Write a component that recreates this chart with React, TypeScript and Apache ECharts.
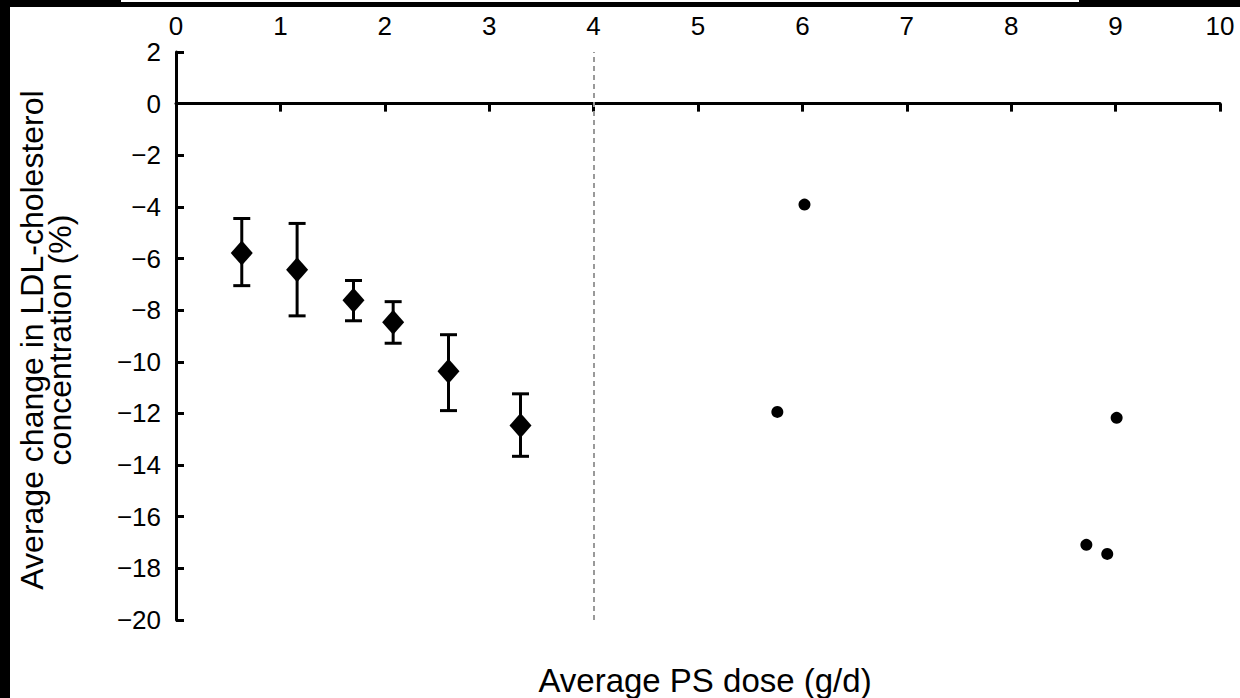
import React, { useEffect, useRef } from "react";
import * as echarts from "echarts";

const diamondX = [0.63, 1.16, 1.7, 2.08, 2.61, 3.3];
const diamondY = [-5.79, -6.43, -7.62, -8.47, -10.37, -12.47];
const errLow = [-7.05, -8.22, -8.41, -9.28, -11.89, -13.66];
const errHigh = [-4.45, -4.64, -6.85, -7.67, -8.95, -11.24];

const circleX = [6.02, 5.76, 9.01, 8.72, 8.92];
const circleY = [-3.91, -11.94, -12.17, -17.09, -17.44];

const cutoffX = 4;
const xTitle = "Average PS dose (g/d)";
const yTitle = "Average change in LDL-cholesterol\nconcentration (%)";

const FONT = "'Liberation Sans', Arial, sans-serif";

export default function App() {
  const ref = useRef<HTMLDivElement>(null);
  useEffect(() => {
    if (!ref.current) return;
    const chart = echarts.init(ref.current, null, { renderer: "svg" });
    const errData = diamondX.map((x, i) => [x, errLow[i], errHigh[i]]);
    const diaData = diamondX.map((x, i) => [x, diamondY[i]]);
    const cirData = circleX.map((x, i) => [x, circleY[i]]);
    chart.setOption({
      animation: false,
      backgroundColor: "#fff",
      grid: { left: 176, right: 20, top: 52, bottom: 78, containLabel: false },
      xAxis: [
        {
          type: "value",
          min: 0,
          max: 10,
          interval: 1,
          position: "top",
          axisLine: { show: false, onZero: false },
          axisTick: { show: false },
          splitLine: { show: false },
          axisLabel: { color: "#000", fontSize: 26, fontFamily: FONT, margin: 13 },
        },
        {
          type: "value",
          min: 0,
          max: 10,
          interval: 1,
          position: "bottom",
          axisLine: { show: true, onZero: true, lineStyle: { color: "#000", width: 3 } },
          axisTick: { show: true, inside: false, length: 8, lineStyle: { color: "#000", width: 3 } },
          splitLine: { show: false },
          axisLabel: { show: false },
        },
      ],
      yAxis: {
        type: "value",
        min: -20,
        max: 2,
        interval: 2,
        axisLine: { show: true, onZero: false, lineStyle: { color: "#000", width: 3 } },
        axisTick: { show: true, inside: true, length: 8, lineStyle: { color: "#000", width: 3 } },
        splitLine: { show: false },
        axisLabel: {
          color: "#000",
          fontSize: 26,
          fontFamily: FONT,
          margin: 15,
          formatter: (v: number) => String(v).replace("-", "\u2212"),
        },
      },
      graphic: [
        { type: "rect", shape: { x: 0, y: 0, width: 10, height: 698 }, style: { fill: "#000" }, z: 100 },
        { type: "rect", shape: { x: 0, y: 0, width: 1240, height: 7 }, style: { fill: "#000" }, z: 100 },
        { type: "rect", shape: { x: 121, y: 0, width: 958, height: 2 }, style: { fill: "#fff" }, z: 101 },
        {
          type: "text",
          x: 705,
          y: 680,
          style: { text: xTitle, font: `33px ${FONT}`, fill: "#000", textAlign: "center", textVerticalAlign: "middle" },
        },
        {
          type: "text",
          x: 46,
          y: 340,
          rotation: Math.PI / 2,
          style: {
            text: yTitle,
            font: `32px ${FONT}`,
            lineHeight: 28,
            fill: "#000",
            textAlign: "center",
            textVerticalAlign: "middle",
          },
        },
      ],
      series: [
        {
          type: "custom",
          xAxisIndex: 0,
          data: errData,
          renderItem: (params: any, api: any) => {
            const x = api.value(0);
            const pLo = api.coord([x, api.value(1)]);
            const pHi = api.coord([x, api.value(2)]);
            const hw = 8.5;
            const style = { stroke: "#000", lineWidth: 3, fill: "none" };
            return {
              type: "group",
              children: [
                { type: "line", shape: { x1: pLo[0], y1: pLo[1], x2: pHi[0], y2: pHi[1] }, style },
                { type: "line", shape: { x1: pLo[0] - hw, y1: pLo[1], x2: pLo[0] + hw, y2: pLo[1] }, style },
                { type: "line", shape: { x1: pHi[0] - hw, y1: pHi[1], x2: pHi[0] + hw, y2: pHi[1] }, style },
              ],
            };
          },
          z: 3,
        },
        {
          type: "scatter",
          xAxisIndex: 0,
          data: diaData,
          symbol: "diamond",
          symbolSize: [22, 25],
          itemStyle: { color: "#000", opacity: 1 },
          z: 4,
          markLine: {
            silent: true,
            symbol: "none",
            label: { show: false },
            lineStyle: { color: "#999", type: [5, 4], width: 2 },
            data: [{ xAxis: cutoffX }],
          },
        },
        {
          type: "scatter",
          xAxisIndex: 0,
          data: cirData,
          symbol: "circle",
          symbolSize: 12,
          itemStyle: { color: "#000", opacity: 1 },
          z: 4,
        },
      ],
    });
    return () => chart.dispose();
  }, []);
  return (
    <div
      ref={ref}
      style={{ position: "fixed", left: 0, top: 0, width: 1240, height: 698 }}
    />
  );
}
